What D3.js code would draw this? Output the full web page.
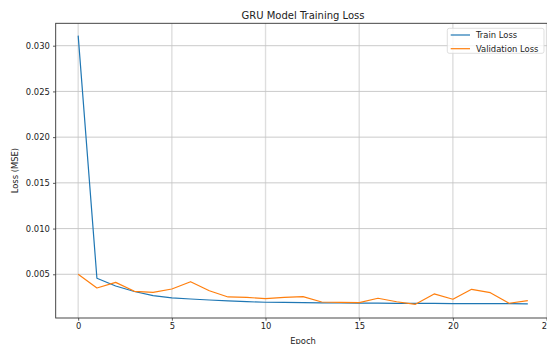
<!DOCTYPE html>
<html>
<head>
<meta charset="utf-8">
<script src="https://cdn.jsdelivr.net/npm/d3@7"></script>
<style>
  html, body { margin: 0; padding: 0; background: #fff; }
  svg { display: block; font-family: "DejaVu Sans", sans-serif; }
</style>
</head>
<body>
<svg id="chart" width="547" height="344"></svg>
<script>
// Per-epoch loss history of the GRU model
const epochs = d3.range(0, 25);
const trainLoss = [0.0311, 0.00456, 0.00372, 0.00312, 0.00266, 0.00243, 0.00230, 0.00219, 0.00210, 0.00200,
                   0.00194, 0.00192, 0.00190, 0.00188, 0.00186, 0.00185, 0.00184, 0.00183, 0.00182, 0.00181,
                   0.00180, 0.00180, 0.00179, 0.00179, 0.00177];
const valLoss   = [0.00500, 0.00350, 0.00412, 0.00314, 0.00302, 0.00339, 0.00419, 0.00320, 0.00252, 0.00248,
                   0.00233, 0.00248, 0.00255, 0.00197, 0.00192, 0.00190, 0.00238, 0.00200, 0.00172, 0.00285,
                   0.00227, 0.00336, 0.00299, 0.00183, 0.00211];
const xTicks = [0, 5, 10, 15, 20, 25];
const yTicks = [0.005, 0.010, 0.015, 0.020, 0.025, 0.030];
const seriesNames = ["Train Loss", "Validation Loss"];
const seriesColors = ["#1f77b4", "#ff7f0e"];

const svg = d3.select("#chart");
const plot = { left: 55.7, right: 550.3, top: 23.3, bottom: 318 };

const x = d3.scaleLinear().domain([-1.2, 25.2]).range([plot.left, plot.right]);
const y = d3.scaleLinear().domain([0.00022, 0.03245]).range([plot.bottom, plot.top]);

// grid
const grid = svg.append("g");
grid.selectAll("line.v").data(xTicks).join("line")
  .attr("x1", d => x(d)).attr("x2", d => x(d))
  .attr("y1", plot.top).attr("y2", plot.bottom)
  .attr("stroke", "#dedede").attr("stroke-width", 1.4);
grid.selectAll("line.h").data(yTicks).join("line")
  .attr("x1", plot.left).attr("x2", plot.right)
  .attr("y1", d => y(d)).attr("y2", d => y(d))
  .attr("stroke", "#c4c4c4").attr("stroke-width", 0.9);

// lines
const line = d3.line().x((d, i) => x(epochs[i])).y(d => y(d));
[trainLoss, valLoss].forEach((s, k) => {
  svg.append("path").datum(s)
    .attr("fill", "none")
    .attr("stroke", seriesColors[k])
    .attr("stroke-width", 1.2)
    .attr("stroke-linejoin", "round")
    .attr("d", line);
});

// axes
const xAxis = d3.axisBottom(x).tickValues(xTicks).tickSize(2.7).tickPadding(2.5).tickFormat(d3.format("d"));
const yAxis = d3.axisLeft(y).tickValues(yTicks).tickSize(2.7).tickPadding(3.2).tickFormat(d3.format(".3f"));
const gx = svg.append("g").attr("transform", `translate(0,${plot.bottom})`).call(xAxis);
const gy = svg.append("g").attr("transform", `translate(${plot.left},0)`).call(yAxis);
[gx, gy].forEach(g => {
  g.select(".domain").remove();
  g.selectAll("line").attr("stroke", "#333").attr("stroke-width", 0.8);
  g.selectAll("text").attr("fill", "#222").style("font-size", "8.4px").style("font-family", "DejaVu Sans");
});

// frame
svg.append("rect")
  .attr("x", plot.left).attr("y", plot.top)
  .attr("width", plot.right - plot.left).attr("height", plot.bottom - plot.top)
  .attr("fill", "none").attr("stroke", "#333").attr("stroke-width", 0.9);

// titles
svg.append("text").attr("x", (plot.left + plot.right) / 2).attr("y", 19)
  .attr("text-anchor", "middle").style("font-size", "10px").attr("fill", "#222")
  .text("GRU Model Training Loss");
svg.append("text").attr("x", (plot.left + plot.right) / 2).attr("y", 343.5)
  .attr("text-anchor", "middle").style("font-size", "8.4px").attr("fill", "#222")
  .text("Epoch");
svg.append("text").attr("transform", `translate(18,${(plot.top + plot.bottom) / 2}) rotate(-90)`)
  .attr("text-anchor", "middle").style("font-size", "8.4px").attr("fill", "#222")
  .text("Loss (MSE)");

// legend
const lg = svg.append("g").attr("transform", "translate(447.3,28.3)");
lg.append("rect").attr("width", 96.7).attr("height", 25)
  .attr("rx", 2).attr("fill", "#fff").attr("fill-opacity", 0.8)
  .attr("stroke", "#d6d6d6").attr("stroke-width", 0.8);
seriesNames.forEach((name, k) => {
  const yy = 6.7 + k * 13.7;
  lg.append("line").attr("x1", 3.4).attr("x2", 22.7).attr("y1", yy).attr("y2", yy)
    .attr("stroke", seriesColors[k]).attr("stroke-width", 1.2);
  lg.append("text").attr("x", 28.7).attr("y", yy + 3)
    .style("font-size", "8.4px").attr("fill", "#222").text(name);
});
</script>
</body>
</html>
